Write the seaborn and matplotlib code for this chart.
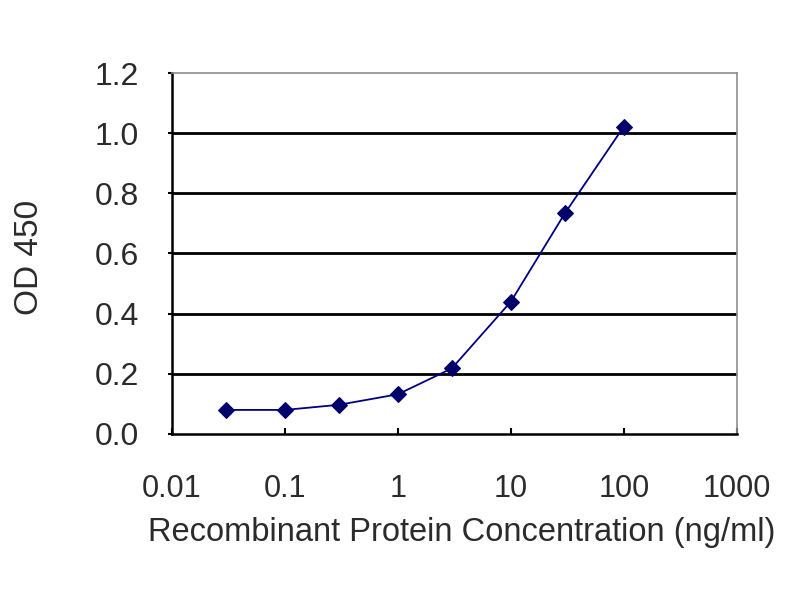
"""OD 450 titration curve"""

import matplotlib
matplotlib.use("Agg")
import matplotlib.pyplot as plt
import seaborn as sns
import pandas as pd

# data
conc = [0.03, 0.1, 0.3, 1, 3, 10, 30, 100]
od450 = [0.08, 0.08, 0.097, 0.132, 0.218, 0.44, 0.733, 1.022]
xticks = [0.01, 0.1, 1, 10, 100, 1000]
xtick_labels = ["0.01", "0.1", "1", "10", "100", "1000"]
yticks = [0.0, 0.2, 0.4, 0.6, 0.8, 1.0, 1.2]

df = pd.DataFrame({"conc": conc, "od": od450})

sns.set_style("white")
plt.rcParams["font.family"] = ["Liberation Sans", "DejaVu Sans"]

text_col = "#2b2b2b"

fig = plt.figure(figsize=(8, 6), dpi=100)
ax = fig.add_axes([0.215, 0.2767, 0.706, 0.6016])

sns.lineplot(data=df, x="conc", y="od", ax=ax, color="#000080", linewidth=1.3,
             marker="D", markersize=8, markerfacecolor="#00006a",
             markeredgecolor="#00006a")

ax.set_xscale("log")
ax.set_xlim(0.01, 1000)
ax.set_ylim(0, 1.2)
ax.set_xticks(xticks)
ax.set_xticklabels(xtick_labels)
ax.minorticks_off()
ax.set_yticks(yticks)
ax.set_yticklabels([f"{v:.1f}" for v in yticks])

# horizontal grid lines
for v in yticks[1:-1]:
    ax.axhline(v, color="black", linewidth=2, zorder=0)

for side in ["top", "right"]:
    ax.spines[side].set_color("#8c8c8c")
    ax.spines[side].set_linewidth(1.2)
for side in ["left", "bottom"]:
    ax.spines[side].set_color("black")
    ax.spines[side].set_linewidth(1.8)

ax.tick_params(axis="y", direction="out", length=3, width=1.5, pad=21,
               labelsize=23, labelcolor=text_col, color="black", left=True)
ax.tick_params(axis="x", direction="in", length=4, width=1.5, pad=29,
               labelsize=22, labelcolor=text_col, color="black", bottom=True)

ax.set_xlabel("Recombinant Protein Concentration (ng/ml)", fontsize=23.5,
              color=text_col, va="center")
ax.xaxis.set_label_coords(0.513, -0.274)
ax.set_ylabel("OD 450", fontsize=24, color=text_col, va="center")
ax.yaxis.set_label_coords(-0.252, 0.49)

plt.savefig("out.png", dpi=100)
